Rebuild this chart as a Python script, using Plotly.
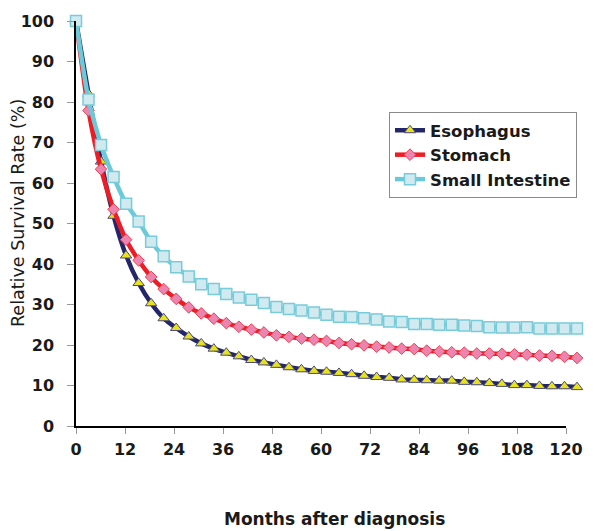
import plotly.graph_objects as go

months = list(range(0, 121, 3))

esophagus = [100, 82.0, 65.3, 51.9, 42.1, 35.3, 30.3, 26.6, 24.2, 22.1,
             20.4, 19.1, 18.1, 17.2, 16.3, 15.7, 15.1, 14.5, 14.0, 13.6,
             13.4, 13.1, 12.8, 12.4, 12.1, 11.9, 11.5, 11.4, 11.3, 11.2,
             11.2, 10.9, 10.8, 10.6, 10.4, 10.1, 10.1, 9.9, 9.8, 9.8, 9.6]
stomach = [100, 77.9, 63.4, 53.5, 46.0, 40.9, 36.8, 33.8, 31.4, 29.3,
           27.8, 26.5, 25.4, 24.5, 23.8, 23.1, 22.4, 22.0, 21.6, 21.3,
           21.0, 20.5, 20.2, 19.9, 19.6, 19.4, 19.1, 19.0, 18.6, 18.4,
           18.2, 18.1, 17.9, 17.9, 17.8, 17.7, 17.6, 17.4, 17.3, 17.1, 16.8]
small_intestine = [100, 80.6, 69.4, 61.5, 54.9, 50.5, 45.5, 41.9, 39.2, 36.9,
                   35.0, 33.8, 32.6, 31.7, 31.2, 30.4, 29.4, 28.9, 28.5, 28.0,
                   27.5, 27.0, 26.9, 26.6, 26.3, 25.8, 25.7, 25.2, 25.2, 25.0,
                   25.0, 24.8, 24.7, 24.4, 24.3, 24.3, 24.4, 24.1, 24.1, 24.1, 24.1]

x_ticks = list(range(0, 121, 12))
y_ticks = list(range(0, 101, 10))

FONT = "DejaVu Sans, Arial, sans-serif"
TXT = "#1a1a1a"

fig = go.Figure()

# empty trace so that the labelled month axis (x2) is created and drawn
fig.add_trace(go.Scatter(
    x=[None], y=[None], xaxis="x2", yaxis="y", mode="markers",
    showlegend=False, hoverinfo="skip",
))
fig.add_trace(go.Scatter(
    x=months, y=esophagus, name="Esophagus", mode="lines+markers",
    xaxis="x", yaxis="y", cliponaxis=False,
    line=dict(color="#232668", width=4.5, shape="spline", smoothing=0.6),
    marker=dict(symbol="triangle-up", size=10, color="#E8E21E",
                line=dict(color="#4A4A80", width=1)),
))
fig.add_trace(go.Scatter(
    x=months, y=stomach, name="Stomach", mode="lines+markers",
    xaxis="x", yaxis="y", cliponaxis=False,
    line=dict(color="#EE1C25", width=4.5, shape="spline", smoothing=0.6),
    marker=dict(symbol="diamond", size=9, color="#EC84B0",
                line=dict(color="#EE4050", width=1)),
))
fig.add_trace(go.Scatter(
    x=months, y=small_intestine, name="Small Intestine", mode="lines+markers",
    xaxis="x", yaxis="y", cliponaxis=False,
    line=dict(color="#6CCAD8", width=4.5, shape="spline", smoothing=0.6),
    marker=dict(symbol="square", size=11, color="#D0EAF0",
                line=dict(color="#78CCDA", width=1.5)),
))

# page body has an 8px margin; figure is sized/offset so it fills the window
fig.update_layout(
    width=586, height=523,
    margin=dict(l=68, r=17, t=13, b=105, autoexpand=False),
    paper_bgcolor="white", plot_bgcolor="rgba(0,0,0,0)",
    font=dict(family=FONT, color=TXT),
    showlegend=True,
    legend=dict(
        x=(389 - 76) / 501, y=(426 - 112) / 405, xanchor="left", yanchor="top",
        bordercolor="#8a8a8a", borderwidth=1, bgcolor="white",
        font=dict(family=FONT, size=16.5, color=TXT, weight="bold"),
        itemwidth=30, tracegroupgap=0,
    ),
    # data axis (months 0..120 across the plotted curves)
    xaxis=dict(
        domain=[0, 1], range=[0, 120], anchor="y",
        visible=False, showgrid=False, zeroline=False,
    ),
    # labelled month axis as drawn in the reference
    xaxis2=dict(
        domain=[0, 490 / 501], range=[0, 120], anchor="y",
        tickvals=x_ticks, ticktext=[str(v) for v in x_ticks],
        ticks="outside", ticklen=6, tickcolor="#999999", tickwidth=1,
        showline=True, linecolor="black", linewidth=1.5,
        showgrid=False, zeroline=False, ticklabelstandoff=2,
        tickfont=dict(family=FONT, size=16, color=TXT, weight="bold"),
    ),
    yaxis=dict(
        range=[0, 100], anchor="x",
        tickvals=y_ticks, ticktext=[str(v) for v in y_ticks],
        ticks="outside", ticklen=7, tickcolor="#999999", tickwidth=1,
        showline=True, linecolor="black", linewidth=1.5,
        showgrid=False, zeroline=False, ticklabelstandoff=10,
        tickfont=dict(family=FONT, size=16, color=TXT, weight="bold"),
    ),
    annotations=[
        dict(text="Months after diagnosis", xref="paper", yref="paper",
             x=(334 - 76) / 501, y=-(519 - 426) / 405,
             xanchor="center", yanchor="middle", showarrow=False,
             font=dict(family=FONT, size=17, color=TXT, weight="bold")),
        dict(text="Relative Survival Rate (%)", xref="paper", yref="paper",
             x=-(76 - 18) / 501, y=(426 - 213) / 405, textangle=-90,
             xanchor="center", yanchor="middle", showarrow=False,
             font=dict(family=FONT, size=17.5, color=TXT)),
    ],
)

fig.write_html("out.html")
